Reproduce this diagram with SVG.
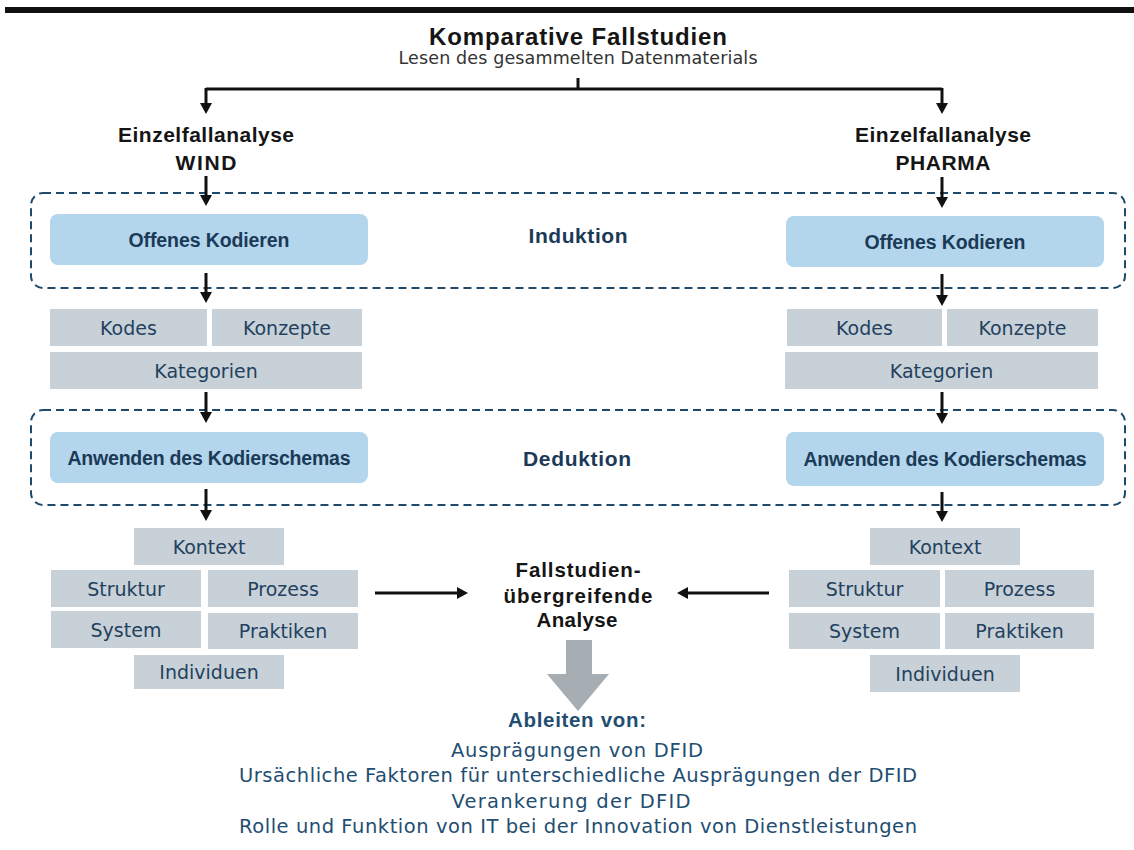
<svg xmlns="http://www.w3.org/2000/svg" width="1134" height="850" viewBox="0 0 1134 850">
  <defs>
    <style>
      .bar { fill: #111111; }
      .blue { fill: #b3d6ed; }
      .gray { fill: #c8d1d8; }
      .phasebox { fill: none; stroke: #1f4a6b; stroke-width: 2; stroke-dasharray: 8 5; }
      .title { font-family: "Liberation Sans", Arial, sans-serif; font-weight: bold; font-size: 24px; fill: #151515; text-anchor: middle; }
      .sub { font-family: "DejaVu Sans", "Liberation Sans", sans-serif; font-size: 17.5px; fill: #333333; text-anchor: middle; }
      .head { font-family: "Liberation Sans", Arial, sans-serif; font-weight: bold; font-size: 21px; fill: #151515; text-anchor: middle; }
      .phase { font-family: "Liberation Sans", Arial, sans-serif; font-weight: bold; font-size: 21px; fill: #1b3a57; text-anchor: middle; }
      .lblb { font-family: "Liberation Sans", Arial, sans-serif; font-weight: bold; font-size: 19.5px; fill: #1b3a57; text-anchor: middle; }
      .lblr { font-family: "DejaVu Sans", "Liberation Sans", sans-serif; font-size: 19px; fill: #23415e; text-anchor: middle; }
      .mid { font-family: "Liberation Sans", Arial, sans-serif; font-weight: bold; font-size: 20.5px; fill: #151515; text-anchor: middle; }
      .outh { font-family: "Liberation Sans", Arial, sans-serif; font-weight: bold; font-size: 20.5px; fill: #1f4e72; text-anchor: middle; }
      .out { font-family: "DejaVu Sans", "Liberation Sans", sans-serif; font-size: 19.5px; fill: #1f4e72; text-anchor: middle; }
      .conn { fill: none; stroke: #111111; stroke-width: 3; }
      .arrow { fill: none; stroke: #111111; stroke-width: 3; marker-end: url(#ah); }
      .bigarrow { fill: #a6adb3; }
    </style>
    <marker id="ah" viewBox="0 0 11 12" refX="0" refY="6" markerWidth="11" markerHeight="12" markerUnits="userSpaceOnUse" orient="auto">
      <path d="M0,0 L11,6 L0,12 z" fill="#111111"/>
    </marker>
  </defs>

  <rect class="bar" x="5" y="7" width="1129" height="6"/>

  <!-- heading -->
  <g id="title">
    <text class="title" x="578" y="45" textLength="298">Komparative Fallstudien</text>
    <text class="sub" x="578" y="64" textLength="359">Lesen des gesammelten Datenmaterials</text>
  </g>

  <!-- phase frames -->
  <g id="induktion">
    <rect class="phasebox" x="31" y="193" width="1094" height="95" rx="12"/>
    <text class="phase" x="578" y="243" textLength="99">Induktion</text>
  </g>
  <g id="deduktion">
    <rect class="phasebox" x="31" y="410" width="1094" height="95" rx="12"/>
    <text class="phase" x="577" y="466" textLength="108">Deduktion</text>
  </g>

  <!-- WIND case -->
  <g id="case-wind">
    <text class="head" x="206" y="142" textLength="176">Einzelfallanalyse</text>
    <text class="head" x="206" y="170" textLength="61">WIND</text>
  </g>
  <g id="wind-open">
    <rect class="blue" x="50" y="214" width="318" height="51" rx="8"/>
    <text class="lblb" x="209" y="247" textLength="161">Offenes Kodieren</text>
  </g>
  <g id="wind-kodes">
    <rect class="gray" x="50" y="309" width="157" height="37"/>
    <text class="lblr" x="128.5" y="334.5">Kodes</text>
  </g>
  <g id="wind-konzepte">
    <rect class="gray" x="212" y="309" width="150" height="37"/>
    <text class="lblr" x="287" y="334.5">Konzepte</text>
  </g>
  <g id="wind-kategorien">
    <rect class="gray" x="50" y="352" width="312" height="37"/>
    <text class="lblr" x="206" y="377.5">Kategorien</text>
  </g>
  <g id="wind-apply">
    <rect class="blue" x="50" y="432" width="318" height="51" rx="8"/>
    <text class="lblb" x="209" y="465" textLength="283">Anwenden des Kodierschemas</text>
  </g>
  <g id="wind-kontext">
    <rect class="gray" x="134" y="528" width="150" height="37"/>
    <text class="lblr" x="209" y="553.5">Kontext</text>
  </g>
  <g id="wind-struktur">
    <rect class="gray" x="51" y="570" width="150" height="37"/>
    <text class="lblr" x="126" y="595.5">Struktur</text>
  </g>
  <g id="wind-prozess">
    <rect class="gray" x="208" y="570" width="150" height="37"/>
    <text class="lblr" x="283" y="595.5">Prozess</text>
  </g>
  <g id="wind-system">
    <rect class="gray" x="51" y="611" width="150" height="37"/>
    <text class="lblr" x="126" y="636.5">System</text>
  </g>
  <g id="wind-praktiken">
    <rect class="gray" x="208" y="613" width="150" height="36"/>
    <text class="lblr" x="283" y="638">Praktiken</text>
  </g>
  <g id="wind-individuen">
    <rect class="gray" x="134" y="655" width="150" height="34"/>
    <text class="lblr" x="209" y="679">Individuen</text>
  </g>

  <!-- PHARMA case -->
  <g id="case-pharma">
    <text class="head" x="943" y="142" textLength="176">Einzelfallanalyse</text>
    <text class="head" x="943" y="170" textLength="95">PHARMA</text>
  </g>
  <g id="pharma-open">
    <rect class="blue" x="786" y="216" width="318" height="51" rx="8"/>
    <text class="lblb" x="945" y="248.5" textLength="161">Offenes Kodieren</text>
  </g>
  <g id="pharma-kodes">
    <rect class="gray" x="787" y="309" width="155" height="37"/>
    <text class="lblr" x="864.5" y="334.5">Kodes</text>
  </g>
  <g id="pharma-konzepte">
    <rect class="gray" x="947" y="309" width="151" height="37"/>
    <text class="lblr" x="1022.5" y="334.5">Konzepte</text>
  </g>
  <g id="pharma-kategorien">
    <rect class="gray" x="785" y="352" width="313" height="37"/>
    <text class="lblr" x="941.5" y="377.5">Kategorien</text>
  </g>
  <g id="pharma-apply">
    <rect class="blue" x="786" y="432" width="318" height="54" rx="8"/>
    <text class="lblb" x="945" y="466" textLength="283">Anwenden des Kodierschemas</text>
  </g>
  <g id="pharma-kontext">
    <rect class="gray" x="870" y="528" width="150" height="37"/>
    <text class="lblr" x="945" y="553.5">Kontext</text>
  </g>
  <g id="pharma-struktur">
    <rect class="gray" x="789" y="570" width="151" height="37"/>
    <text class="lblr" x="864.5" y="595.5">Struktur</text>
  </g>
  <g id="pharma-prozess">
    <rect class="gray" x="945" y="570" width="149" height="37"/>
    <text class="lblr" x="1019.5" y="595.5">Prozess</text>
  </g>
  <g id="pharma-system">
    <rect class="gray" x="789" y="613" width="151" height="36"/>
    <text class="lblr" x="864.5" y="638">System</text>
  </g>
  <g id="pharma-praktiken">
    <rect class="gray" x="945" y="613" width="149" height="36"/>
    <text class="lblr" x="1019.5" y="638">Praktiken</text>
  </g>
  <g id="pharma-individuen">
    <rect class="gray" x="870" y="655" width="150" height="37"/>
    <text class="lblr" x="945" y="680.5">Individuen</text>
  </g>

  <!-- cross-case analysis -->
  <g id="cross-case">
    <text class="mid" x="578" y="577" textLength="125">Fallstudien-</text>
    <text class="mid" x="578" y="603" textLength="149">übergreifende</text>
    <text class="mid" x="577" y="627" textLength="81">Analyse</text>
  </g>

  <!-- results -->
  <g id="results">
    <text class="outh" x="577" y="727" textLength="138">Ableiten von:</text>
    <text class="out" x="577" y="757" textLength="252">Ausprägungen von DFID</text>
    <text class="out" x="578" y="782" textLength="678">Ursächliche Faktoren für unterschiedliche Ausprägungen der DFID</text>
    <text class="out" x="571" y="808" textLength="239">Verankerung der DFID</text>
    <text class="out" x="578" y="833" textLength="678">Rolle und Funktion von IT bei der Innovation von Dienstleistungen</text>
  </g>

  <!-- connectors -->
  <g id="connectors">
    <path class="conn" d="M578,78 V89"/>
    <path class="conn" d="M206,89 H942"/>
    <path class="arrow" d="M206,88 V103"/>
    <path class="arrow" d="M942,88 V103"/>
    <path class="arrow" d="M206,176 V195"/>
    <path class="arrow" d="M942,177 V197"/>
    <path class="arrow" d="M206,273 V292"/>
    <path class="arrow" d="M942,274 V295"/>
    <path class="arrow" d="M206,392 V412"/>
    <path class="arrow" d="M942,392 V413"/>
    <path class="arrow" d="M206,489 V510"/>
    <path class="arrow" d="M942,492 V511"/>
    <path class="arrow" d="M375,593 H457"/>
    <path class="arrow" d="M769,593 H688"/>
    <polygon class="bigarrow" points="566,640 592,640 592,674 609,674 578,711 547,674 566,674"/>
  </g>
</svg>
